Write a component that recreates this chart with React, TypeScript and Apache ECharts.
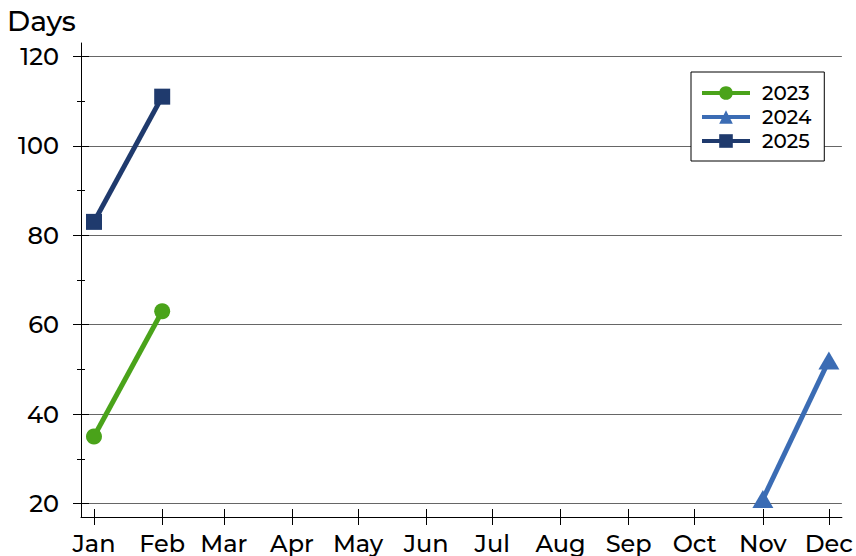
import React, { useEffect, useRef } from "react";
import * as echarts from "echarts";

const monthNames = ["Jan", "Feb", "Mar", "Apr", "May", "Jun", "Jul", "Aug", "Sep", "Oct", "Nov", "Dec"];
const monthStartDays = [0, 31, 59, 90, 120, 151, 181, 212, 243, 273, 304, 334];

const yearNames = ["2023", "2024", "2025"];
const months2023 = ["Jan", "Feb"];
const values2023 = [35, 63];
const months2024 = ["Nov", "Dec"];
const values2024 = [21, 52];
const months2025 = ["Jan", "Feb"];
const values2025 = [83, 111];

const yMajorTicks = [20, 40, 60, 80, 100, 120];
const yMinorTicks = [30, 50, 70, 90, 110];

const FONT = 'Montserrat, "Noto Sans", sans-serif';
const WEIGHT = 500;

const toPoints = (months: string[], values: number[]) =>
  months.map((m, i) => [monthStartDays[monthNames.indexOf(m)], values[i]]);

export default function App() {
  const ref = useRef<HTMLDivElement>(null);
  useEffect(() => {
    if (!ref.current) return;
    const chart = echarts.init(ref.current, null, { renderer: "svg" });
    const xBase = {
      type: "value",
      gridIndex: 0,
      position: "bottom",
      min: -5.9,
      max: 339.9,
      splitLine: { show: false },
    };
    const yBase = {
      type: "value",
      gridIndex: 0,
      position: "left",
      min: 17,
      max: 123,
    };
    const option: any = {
      animation: false,
      backgroundColor: "#ffffff",
      textStyle: { fontFamily: FONT, fontWeight: WEIGHT },
      title: {
        text: "Days",
        left: 2,
        top: 2,
        textStyle: { fontSize: 28, fontWeight: WEIGHT, color: "#000", fontFamily: FONT },
      },
      grid: { left: 81, right: 13, top: 43, bottom: 39, containLabel: false },
      legend: {
        orient: "vertical",
        left: 691,
        top: 72,
        itemWidth: 48,
        itemHeight: 17,
        itemGap: 4,
        padding: [11, 13, 10, 9],
        borderColor: "#000",
        borderWidth: 1,
        borderRadius: 0,
        backgroundColor: "#fff",
        lineStyle: { width: 4 },
        textStyle: { fontSize: 20, color: "#000", fontFamily: FONT, fontWeight: WEIGHT, padding: [0, 0, 0, 7] },
        data: yearNames,
      },
      xAxis: [
        {
          ...xBase,
          axisLine: { show: true, onZero: false, lineStyle: { color: "#000", width: 1 } },
          axisTick: { show: true, customValues: monthStartDays, length: 8, inside: false, lineStyle: { color: "#000", width: 1 } },
          axisLabel: {
            show: true,
            customValues: monthStartDays,
            formatter: (v: number) => monthNames[monthStartDays.indexOf(Math.round(v))] || "",
            fontSize: 24,
            color: "#000",
            margin: 14,
            fontFamily: FONT,
            fontWeight: WEIGHT,
          },
        },
        {
          ...xBase,
          axisLine: { show: false, onZero: false },
          axisTick: { show: true, customValues: monthStartDays, length: 8, inside: true, lineStyle: { color: "#000", width: 1 } },
          axisLabel: { show: false },
        },
      ],
      yAxis: [
        {
          ...yBase,
          axisLine: { show: true, onZero: false, lineStyle: { color: "#000", width: 1 } },
          axisTick: { show: true, customValues: yMajorTicks, length: 8, inside: false, lineStyle: { color: "#000", width: 1 } },
          axisLabel: {
            show: true,
            customValues: yMajorTicks,
            fontSize: 24,
            color: "#000",
            margin: 22,
            fontFamily: FONT,
            fontWeight: WEIGHT,
          },
          splitLine: { show: true, lineStyle: { color: "#666", width: 1 } },
        },
        {
          ...yBase,
          axisLine: { show: false, onZero: false },
          axisTick: { show: true, customValues: yMajorTicks, length: 8, inside: true, lineStyle: { color: "#000", width: 1 } },
          axisLabel: { show: false },
          splitLine: { show: false },
        },
        {
          ...yBase,
          axisLine: { show: false, onZero: false },
          axisTick: { show: true, customValues: yMinorTicks, length: 4, inside: false, lineStyle: { color: "#000", width: 1 } },
          axisLabel: { show: false },
          splitLine: { show: false },
        },
        {
          ...yBase,
          axisLine: { show: false, onZero: false },
          axisTick: { show: true, customValues: yMinorTicks, length: 4, inside: true, lineStyle: { color: "#000", width: 1 } },
          axisLabel: { show: false },
          splitLine: { show: false },
        },
      ],
      series: [
        {
          name: yearNames[0],
          type: "line",
          xAxisIndex: 0,
          yAxisIndex: 0,
          data: toPoints(months2023, values2023),
          symbol: "circle",
          symbolSize: 16,
          color: "#4aa31a",
          lineStyle: { width: 5, color: "#4aa31a" },
          itemStyle: { color: "#4aa31a" },
          z: 3,
        },
        {
          name: yearNames[1],
          type: "line",
          xAxisIndex: 0,
          yAxisIndex: 0,
          data: toPoints(months2024, values2024),
          symbol: "triangle",
          symbolSize: [21, 18],
          color: "#3b6cb4",
          lineStyle: { width: 5, color: "#3b6cb4" },
          itemStyle: { color: "#3b6cb4" },
          z: 3,
        },
        {
          name: yearNames[2],
          type: "line",
          xAxisIndex: 0,
          yAxisIndex: 0,
          data: toPoints(months2025, values2025),
          symbol: "rect",
          symbolSize: 16,
          color: "#1f3a6d",
          lineStyle: { width: 5, color: "#1f3a6d" },
          itemStyle: { color: "#1f3a6d" },
          z: 3,
        },
      ],
    };
    chart.setOption(option);
    return () => chart.dispose();
  }, []);
  return (
    <div
      ref={ref}
      style={{ position: "absolute", left: 0, top: 0, width: 856, height: 556 }}
    />
  );
}
